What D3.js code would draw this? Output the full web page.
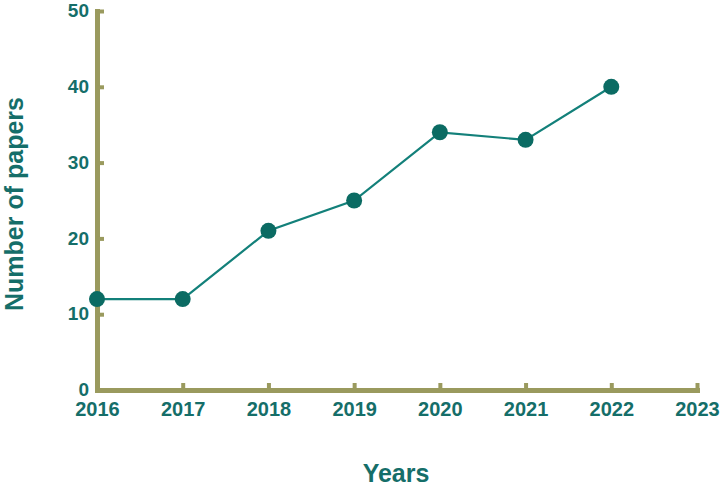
<!DOCTYPE html>
<html><head><meta charset="utf-8">
<script src="https://cdn.jsdelivr.net/npm/d3@7"></script>
<style>body{margin:0;background:#fff}</style>
</head><body>
<svg id="chart" width="722" height="487"></svg>
<script>
const years = [2016, 2017, 2018, 2019, 2020, 2021, 2022];
const papers = [12, 12, 21, 25, 34, 33, 40];
const xTicks = [2016, 2017, 2018, 2019, 2020, 2021, 2022, 2023];
const yTicks = [0, 10, 20, 30, 40, 50];

const svg = d3.select("#chart");
const axisColor = "#9a9a5e", textColor = "#156e69", lineColor = "#13807a", dotColor = "#0b6b63";
const font = "'Liberation Sans', Arial, sans-serif";

const x = d3.scaleLinear().domain([2016, 2023]).range([97, 697]);
const y = d3.scaleLinear().domain([0, 50]).range([390, 11]);

const xAxis = svg.append("g").attr("transform", `translate(0,${y(0)})`)
  .call(d3.axisBottom(x).tickValues(xTicks).tickFormat(d3.format("d")).tickSizeInner(-7).tickSizeOuter(0).tickPadding(12));
const yAxis = svg.append("g").attr("transform", `translate(${x(2016)},0)`)
  .call(d3.axisLeft(y).tickValues(yTicks).tickSizeInner(-7).tickSizeOuter(0).tickPadding(8));

[xAxis, yAxis].forEach(a => {
  a.select(".domain").attr("stroke", axisColor).attr("stroke-width", 5).attr("stroke-linecap", "square");
  a.selectAll(".tick line").attr("stroke", axisColor).attr("stroke-width", 4);
  a.selectAll(".tick text").attr("fill", textColor).attr("font-family", font).attr("font-weight", "bold");
});
xAxis.selectAll(".tick text").attr("font-size", 20);
yAxis.selectAll(".tick text").attr("font-size", 19).attr("dy", "0.3em");

const line = d3.line().x((d, i) => x(years[i])).y(d => y(d));
svg.append("path").datum(papers).attr("d", line)
  .attr("fill", "none").attr("stroke", lineColor).attr("stroke-width", 2.2);

svg.append("g").selectAll("circle").data(papers).join("circle")
  .attr("cx", (d, i) => x(years[i])).attr("cy", d => y(d)).attr("r", 8)
  .attr("fill", dotColor);

svg.append("text").attr("x", 396).attr("y", 482).attr("text-anchor", "middle")
  .attr("fill", textColor).attr("font-family", font).attr("font-weight", "bold").attr("font-size", 25)
  .text("Years");
svg.append("text").attr("transform", "translate(23,204) rotate(-90)").attr("text-anchor", "middle")
  .attr("fill", textColor).attr("font-family", font).attr("font-weight", "bold").attr("font-size", 25)
  .text("Number of papers");
</script>
</body></html>
